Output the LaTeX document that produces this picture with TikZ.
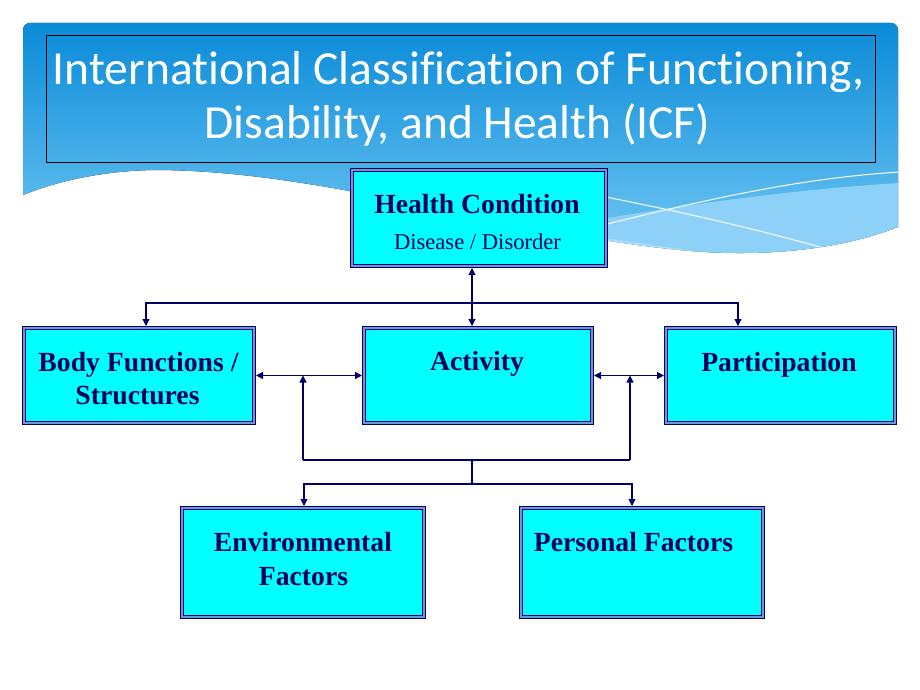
\documentclass[tikz,border=0pt]{standalone}
\usepackage{fontspec}
\setmainfont{Liberation Serif}
\newfontfamily\titlefont[Ligatures={NoCommon}]{Carlito}
\usetikzlibrary{arrows.meta}
\definecolor{bannerTop}{HTML}{0A8BD8}
\definecolor{bannerBot}{HTML}{72C8F4}
\definecolor{bandMid}{HTML}{8DD1F8}
\definecolor{bandLight}{HTML}{AADDFA}
\definecolor{navytext}{HTML}{00005E}
\definecolor{navyline}{HTML}{000066}
\definecolor{gapblue}{HTML}{6A98D8}
\definecolor{boxfill}{HTML}{00FFFF}
\def\bannerpath{(23,195) -- (23,30) arc[start angle=180,end angle=270,radius=7] -- (891,23) arc[start angle=270,end angle=360,radius=7] -- (898,227) .. controls (840,250) and (760,258) .. (680,250) .. controls (500,232) and (330,172) .. (160,170) .. controls (90,170) and (40,188) .. (23,195) -- cycle}
\begin{document}
\begin{tikzpicture}[x=1pt,y=-1pt,
  >={Triangle[length=7pt,width=7pt]},
  box/.style={draw=navyline, line width=1.1pt, double=gapblue, double distance=2pt, fill=boxfill, inner sep=0pt, outer sep=2.1pt},
  boldtext/.style={font=\fontsize{27.7}{33}\selectfont\bfseries, text=navytext, inner sep=0pt, anchor=base},
  regtext/.style={font=\fontsize{22.6}{27}\selectfont, text=navytext, inner sep=0pt, anchor=base},
  titletext/.style={font=\titlefont\fontsize{47.5}{54}\selectfont, text=white, inner sep=0pt, anchor=base},
  conn/.style={draw=navyline, line width=1.1pt}]
\useasboundingbox (0,0) rectangle (920,690);
\fill[white] (0,0) rectangle (920,690);
% banner
\fill[top color=bannerTop, bottom color=bannerBot] \bannerpath;
\begin{scope}
  \clip \bannerpath;
  \fill[bandMid] (440,250) .. controls (620,212) and (780,190) .. (900,183) -- (900,300) -- (440,300) -- cycle;
  \fill[bandLight] (330,195) .. controls (480,222) and (640,242) .. (820,270) -- (330,300) -- cycle;
  \draw[white, line width=1pt] (480,175) .. controls (640,200) and (760,230) .. (827,249);
  \draw[white, line width=1pt] (560,236) .. controls (700,200) and (800,178) .. (900,172);
\end{scope}
% title
\node[draw=black, line width=0.8pt, minimum width=829pt, minimum height=127pt, inner sep=0pt] (titlebox) at (460.5,98.5) {};
\node[titletext] (t1) at (459,85) {International Classification of Functioning,};
\node[titletext] (t2) at (457.5,139) {Disability, and Health (ICF)};
% boxes
\node[box, minimum width=253.8pt, minimum height=95.8pt] (hc) at (479,218) {};
\node[box, minimum width=229.8pt, minimum height=94.8pt] (body) at (139,375.5) {};
\node[box, minimum width=227.8pt, minimum height=94.8pt] (act) at (478,375.5) {};
\node[box, minimum width=228.8pt, minimum height=94.8pt] (part) at (780.5,375.5) {};
\node[box, minimum width=241.8pt, minimum height=108.8pt] (env) at (303,562.5) {};
\node[box, minimum width=241.8pt, minimum height=108.8pt] (pers) at (642,562.5) {};
% texts
\node[boldtext] (hct1) at (477,213.3) {Health Condition};
\node[regtext] (hct2) at (477.5,249) {Disease / Disorder};
\node[boldtext] (bodyt1) at (138.5,371) {Body Functions /};
\node[boldtext] (bodyt2) at (137.5,404) {Structures};
\node[boldtext] (actt) at (477,370) {Activity};
\node[boldtext] (partt) at (779,371) {Participation};
\node[boldtext] (envt1) at (303,551) {Environmental};
\node[boldtext] (envt2) at (303.5,585.7) {Factors};
\node[boldtext] (perst) at (633.5,551) {Personal Factors};
% connector coordinates
\coordinate (cA) at (472,303);
\coordinate (cL) at (146,303);
\coordinate (cR) at (738,303);
\coordinate (vL) at (303,460);
\coordinate (vR) at (630,460);
\coordinate (hM) at (472,460);
\coordinate (hB) at (472,484);
\coordinate (bL) at (304,484);
\coordinate (bR) at (632,484);
% connectors
\draw[conn, <->] (hc.south -| cA) -- (act.north -| cA);
\draw[conn, ->] (cA) -| (body.north -| cL);
\draw[conn, ->] (cA) -| (part.north -| cR);
\draw[conn, <->] (body.east) -- (act.west);
\draw[conn, <->] (act.east) -- (part.west);
\draw[conn, ->] (vL) -- (vL |- body.east);
\draw[conn, ->] (vR) -- (vR |- act.east);
\draw[conn] (vL) -- (vR);
\draw[conn] (hM) -- (hB);
\draw[conn, ->] (hB) -| (env.north -| bL);
\draw[conn, ->] (hB) -| (pers.north -| bR);
\end{tikzpicture}
\end{document}
